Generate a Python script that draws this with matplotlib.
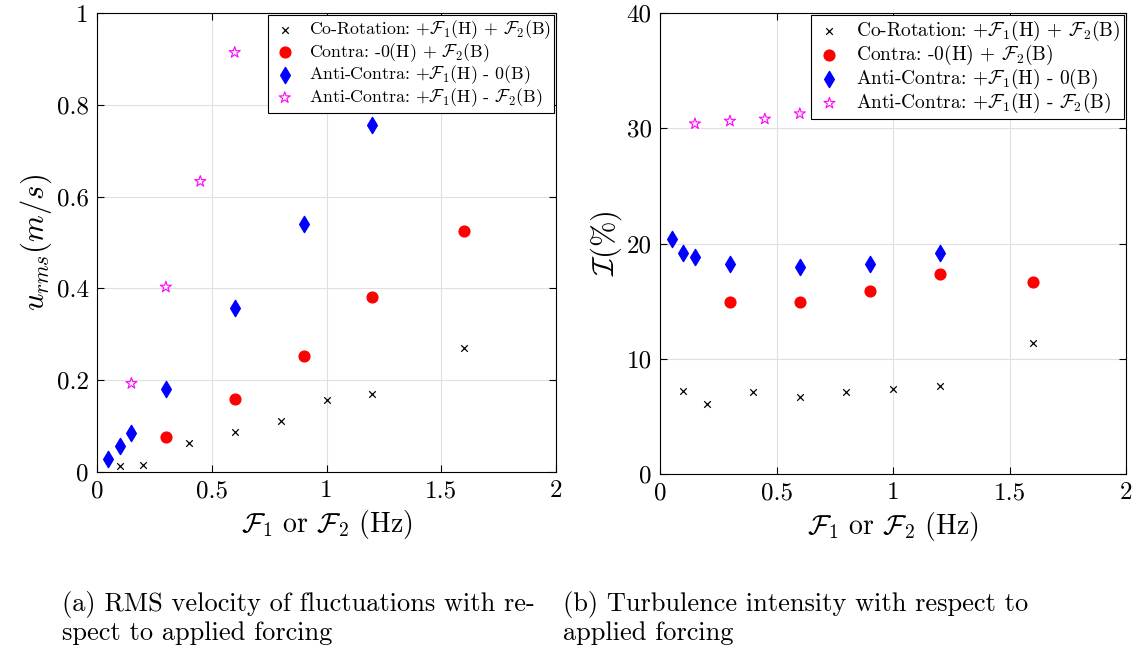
import matplotlib
matplotlib.use("Agg")
import matplotlib.pyplot as plt

plt.rcParams["font.family"] = ["cmr10"]
plt.rcParams["mathtext.fontset"] = "cm"
plt.rcParams["axes.formatter.use_mathtext"] = True
plt.rcParams["axes.unicode_minus"] = False

# forcing frequencies (Hz) per case
co_f = [0.1, 0.2, 0.4, 0.6, 0.8, 1.0, 1.2, 1.6]
contra_f = [0.3, 0.6, 0.9, 1.2, 1.6]
anti_f = [0.05, 0.1, 0.15, 0.3, 0.6, 0.9, 1.2]
anti2_f = [0.15, 0.3, 0.45, 0.6]

# (a) RMS velocity (m/s)
co_urms = [0.013, 0.0145, 0.064, 0.087, 0.112, 0.156, 0.169, 0.271]
contra_urms = [0.077, 0.160, 0.252, 0.382, 0.524]
anti_urms = [0.028, 0.057, 0.086, 0.180, 0.358, 0.541, 0.755]
anti2_urms = [0.193, 0.403, 0.633, 0.914]

# (b) turbulence intensity (%)
co_ti = [7.24, 6.08, 7.15, 6.66, 7.09, 7.38, 7.67, 11.35]
contra_ti = [14.93, 14.93, 15.92, 17.34, 16.70]
anti_ti = [20.38, 19.16, 18.84, 18.26, 17.95, 18.23, 19.16]
anti2_ti = [30.39, 30.62, 30.80, 31.26]

labels = [
    r"Co-Rotation: +$\mathcal{F}_1$(H) + $\mathcal{F}_2$(B)",
    r"Contra: -0(H) + $\mathcal{F}_2$(B)",
    r"Anti-Contra: +$\mathcal{F}_1$(H) - 0(B)",
    r"Anti-Contra: +$\mathcal{F}_1$(H) - $\mathcal{F}_2$(B)",
]


def draw_panel(ax, ys, ymax, yticks, ylabel, legend_size):
    co, contra, anti, anti2 = ys
    ax.scatter(co_f, co, marker="x", color="black", s=22, linewidths=0.9, label=labels[0], zorder=3)
    ax.scatter(contra_f, contra, marker="o", color="red", s=60, label=labels[1], zorder=3)
    ax.scatter(anti_f, anti, marker="d", color="blue", s=68, label=labels[2], zorder=3)
    ax.scatter(anti2_f, anti2, marker="*", facecolors="none", edgecolors="magenta",
               s=70, linewidths=0.8, label=labels[3], zorder=3)
    ax.set_xlim(0, 2)
    ax.set_ylim(0, ymax)
    ax.set_xticks([0, 0.5, 1, 1.5, 2])
    ax.set_xticklabels(["0", "0.5", "1", "1.5", "2"])
    ax.set_yticks(yticks)
    ax.set_yticklabels([("%g" % t) for t in yticks])
    ax.tick_params(direction="in", top=True, right=True, labelsize=18, length=5, pad=6)
    ax.grid(True, color="#e0e0e0", linewidth=0.8)
    ax.set_axisbelow(True)
    for sp in ax.spines.values():
        sp.set_linewidth(0.8)
    ax.set_xlabel(r"$\mathcal{F}_1$ or $\mathcal{F}_2$ (Hz)", fontsize=20, labelpad=4)
    ax.set_ylabel(ylabel, fontsize=22, labelpad=2)
    leg = ax.legend(loc="upper right", fontsize=legend_size, fancybox=False,
                    edgecolor="black", framealpha=1, borderaxespad=0.1,
                    handletextpad=0.6, labelspacing=0.0, borderpad=0.2,
                    handlelength=1.5, scatterpoints=1)
    leg.get_frame().set_linewidth(0.8)


fig = plt.figure(figsize=(11.36, 6.52), dpi=100)
ax1 = fig.add_axes([97 / 1136, 1 - 472 / 652, 459 / 1136, 459 / 652])
ax2 = fig.add_axes([660 / 1136, 1 - 474 / 652, 466 / 1136, 461 / 652])

draw_panel(ax1, (co_urms, contra_urms, anti_urms, anti2_urms), 1,
           [0, 0.2, 0.4, 0.6, 0.8, 1], r"$u_{rms}(m/s)$", 12.8)
draw_panel(ax2, (co_ti, contra_ti, anti_ti, anti2_ti), 40,
           [0, 10, 20, 30, 40], r"$\mathcal{I}(\%)$", 14)

fig.text(62 / 1136, 1 - 618 / 652,
         "(a) RMS velocity of fluctuations with re-\nspect to applied forcing",
         fontsize=19, va="center", ha="left", linespacing=1.2)
fig.text(563 / 1136, 1 - 618 / 652,
         "(b) Turbulence intensity with respect to\napplied forcing",
         fontsize=19, va="center", ha="left", linespacing=1.2)

fig.savefig("out.png", dpi=100)
